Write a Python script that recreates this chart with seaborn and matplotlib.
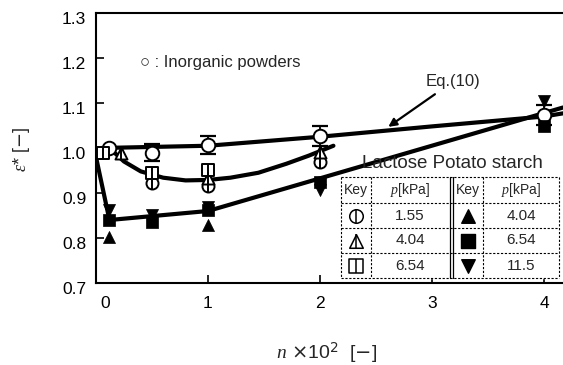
import numpy as np
import pandas as pd
import matplotlib
matplotlib.use("Agg")
import matplotlib.pyplot as plt
import seaborn as sns
from matplotlib.transforms import ScaledTranslation

# ---------------- data ----------------
inorg_x = [0.12, 0.5, 1.0, 2.0, 4.0]
inorg_y = [1.0, 0.99, 1.007, 1.027, 1.073]
inorg_err = [0.0, 0.018, 0.02, 0.022, 0.022]

lac155_x = [0.5, 1.0, 2.0]
lac155_y = [0.922, 0.915, 0.969]
lac404_x = [0.22, 1.0, 2.0]
lac404_y = [0.99, 0.933, 0.991]
lac654_x = [0.06, 0.5, 1.0]
lac654_y = [0.99, 0.944, 0.951]

pot404_x = [0.12, 1.0]
pot404_y = [0.802, 0.829]
pot654_x = [0.12, 0.5, 1.0, 2.0, 4.0]
pot654_y = [0.84, 0.836, 0.862, 0.924, 1.05]
pot115_x = [0.12, 0.5, 1.0, 2.0, 4.0]
pot115_y = [0.862, 0.851, 0.87, 0.907, 1.105]

eq_x = [0.05, 1.0, 2.0, 3.0, 4.0, 4.17]
eq_y = [1.0, 1.005, 1.025, 1.048, 1.07, 1.077]
lac_curve_x = [0.12, 0.25, 0.4, 0.6, 0.8, 1.0, 1.2, 1.45, 1.7, 1.9, 2.12]
lac_curve_y = [1.0, 0.97, 0.948, 0.934, 0.928, 0.929, 0.934, 0.945, 0.965, 0.983, 1.005]
pot_curve_x = [0.0, 0.12, 1.0, 4.17]
pot_curve_y = [0.98, 0.84, 0.86, 1.09]

x_ticks = [0, 1, 2, 3, 4]
y_ticks = [0.7, 0.8, 0.9, 1.0, 1.1, 1.2, 1.3]

table_header = ["Key", "$p$[kPa]", "Key", "$p$[kPa]"]
lactose_p = ["1.55", "4.04", "6.54"]
potato_p = ["4.04", "6.54", "11.5"]

# ---------------- style ----------------
sns.set_style("ticks")
plt.rcParams['font.family'] = ['Liberation Sans', 'DejaVu Sans']
plt.rcParams['mathtext.fontset'] = 'custom'
plt.rcParams['mathtext.it'] = 'Liberation Serif:italic'

W, H = 563, 365
fig = plt.figure(figsize=(W / 100, H / 100), dpi=100)
ax = fig.add_axes([96 / W, 1 - 283 / H, (W - 96) / W, 270 / H])
ax.set_xlim(0, 4.17)
ax.set_ylim(0.7, 1.3)

k = 'black'
LW = 3.0

# curves
for cx, cy in [(eq_x, eq_y), (lac_curve_x, lac_curve_y), (pot_curve_x, pot_curve_y)]:
    df = pd.DataFrame({"x": cx, "y": cy})
    sns.lineplot(data=df, x="x", y="y", ax=ax, color=k, lw=LW, sort=False,
                 estimator=None, zorder=2)

# error bars inorganic
ax.errorbar(inorg_x, inorg_y, yerr=inorg_err, fmt='none', ecolor=k,
            elinewidth=1.3, capsize=6, capthick=1.6, zorder=3)

MS = 75
def open_marker(xs, ys, m, bar=True, s=MS):
    ax.scatter(xs, ys, marker=m, s=s, facecolor='white', edgecolor=k,
               linewidth=1.4, zorder=4)
    if bar:
        ax.scatter(xs, ys, marker='|', s=s * 1.0, color=k, linewidth=1.4, zorder=5)

open_marker(inorg_x, inorg_y, 'o', bar=False, s=95)
open_marker(lac155_x, lac155_y, 'o')
open_marker(lac404_x, lac404_y, '^')
open_marker(lac654_x, lac654_y, 's')

for xs, ys, m in [(pot404_x, pot404_y, '^'), (pot654_x, pot654_y, 's'),
                  (pot115_x, pot115_y, 'v')]:
    sns.scatterplot(x=xs, y=ys, marker=m, s=MS, color=k, edgecolor=k,
                    linewidth=0.5, ax=ax, zorder=4)

# axes styling
ax.set_xticks(x_ticks)
ax.set_yticks(y_ticks)
ax.set_yticklabels([f"{v:.1f}" for v in y_ticks])
ax.tick_params(direction='in', length=6, width=1.2, labelsize=12.5, colors=k)
ax.tick_params(axis='x', pad=9)
ax.tick_params(axis='y', pad=7)
ax.spines['right'].set_visible(False)
for s in ['left', 'bottom', 'top']:
    ax.spines[s].set_linewidth(1.5)
    ax.spines[s].set_color(k)
ax.set_xlabel("")
ax.set_ylabel("")
for lab in ax.get_yticklabels():
    lab.set_transform(lab.get_transform() + ScaledTranslation(0, -5 / 100, fig.dpi_scale_trans))
xl = ax.get_xticklabels()
xl[0].set_transform(xl[0].get_transform() + ScaledTranslation(9 / 100, 0, fig.dpi_scale_trans))

# annotations
ax.text(0.39, 1.191, "○ : Inorganic powders", fontsize=12, va='center', ha='left')
ax.annotate("Eq.(10)", xy=(2.61, 1.047), xytext=(2.94, 1.147), fontsize=12,
            va='center', ha='left',
            arrowprops=dict(arrowstyle='-|>', color=k, lw=1.6, shrinkA=2, shrinkB=0,
                            mutation_scale=12))
ax.text(2.375, 0.956, "Lactose Potato starch", fontsize=13.5, va='baseline', ha='left',
        zorder=6)

# axis labels
fig.text(327 / W, 1 - 353 / H, r"$n$ $\times$10$^2$  [$-$]", fontsize=14, ha='center', va='center')
fig.text(22 / W, 1 - 150 / H, r"$\varepsilon$* [$-$]", fontsize=13, ha='center', va='center',
         rotation=90)

# ---------------- table (overlay in pixel space) ----------------
ov = fig.add_axes([0, 0, 1, 1])
ov.set_xlim(0, W)
ov.set_ylim(H, 0)
ov.axis('off')
ov.patch.set_alpha(0)

rows_y = [177, 203, 228, 253, 278]
cols_x = [341, 371, 450, 453, 483, 559]
ov.fill_between([cols_x[0], cols_x[-1]], rows_y[0], rows_y[-1], color='white', zorder=1)
for yy in rows_y:
    ov.plot([cols_x[0], cols_x[-1]], [yy, yy], color=k, lw=0.8, ls=(0, (2, 1.5)), zorder=2)
for xx in [cols_x[0], cols_x[1], cols_x[4], cols_x[5]]:
    ov.plot([xx, xx], [rows_y[0], rows_y[-1]], color=k, lw=0.8, ls=(0, (2, 1.5)), zorder=2)
for xx in [cols_x[2], cols_x[3]]:
    ov.plot([xx, xx], [rows_y[0], rows_y[-1]], color=k, lw=0.9, zorder=2)

hx = [356, 410, 468, 521]
hy = (rows_y[0] + rows_y[1]) / 2
for t, xx in zip(table_header, hx):
    ov.text(xx, hy, t, fontsize=10, ha='center', va='center', zorder=3)
row_c = [(rows_y[i] + rows_y[i + 1]) / 2 for i in range(1, 4)]
for i, yy in enumerate(row_c):
    ov.text(hx[1], yy, lactose_p[i], fontsize=11, ha='center', va='center', zorder=3)
    ov.text(hx[3], yy, potato_p[i], fontsize=11, ha='center', va='center', zorder=3)
for m, yy in zip(['o', '^', 's'], row_c):
    ov.scatter([hx[0]], [yy], marker=m, s=95, facecolor='white', edgecolor=k, lw=1.1, zorder=3)
    ov.scatter([hx[0]], [yy], marker='|', s=95, color=k, lw=1.1, zorder=4)
for m, yy in zip(['^', 's', 'v'], row_c):
    ov.scatter([hx[2]], [yy], marker=m, s=95, color=k, zorder=3)

fig.savefig("out.png", dpi=100)
